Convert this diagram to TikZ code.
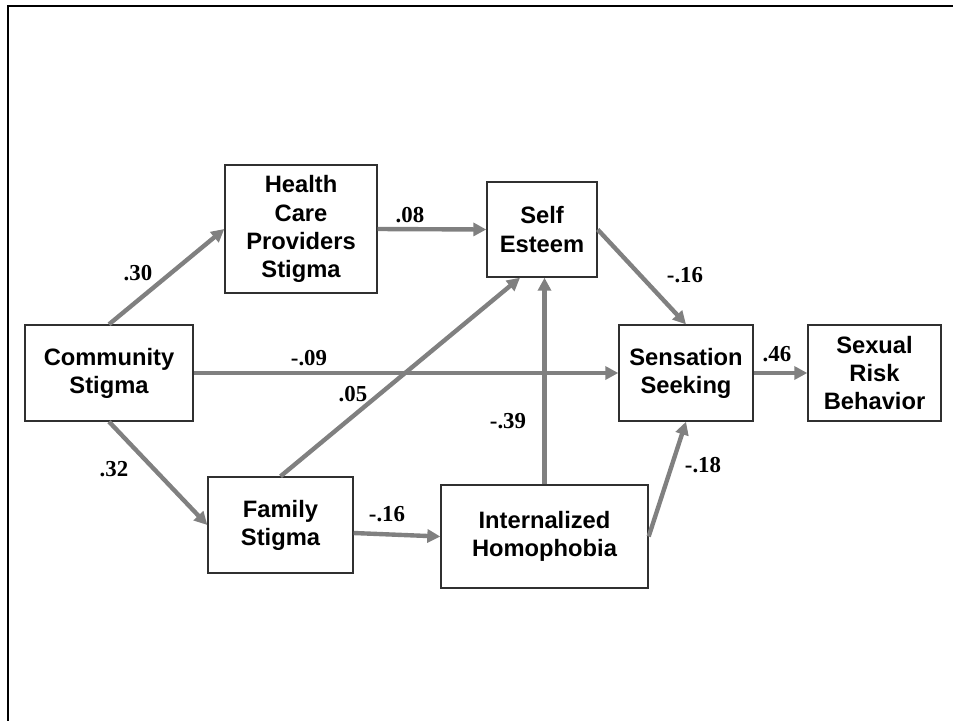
\documentclass[tikz,border=0pt]{standalone}
\usepackage{fontspec}
\setmainfont{Liberation Serif}
\setsansfont{Liberation Sans}
\usetikzlibrary{arrows.meta, calc}
\definecolor{cgrey}{HTML}{808080}
\definecolor{cedge}{HTML}{303030}
\tikzset{
  every picture/.style={x=0.02cm, y=-0.02cm},
  box/.style={draw=cedge, line width=0.8pt, align=center, inner sep=2pt, font=\sffamily\bfseries\fontsize{13.5}{16}\selectfont},
  arrow/.style={-{Triangle[length=2.6mm, width=2.6mm]}, draw=cgrey, line width=2.5pt},
  weight/.style={font=\rmfamily\bfseries\fontsize{13}{15}\selectfont},
  frame/.style={line width=1.4pt},
}

\begin{document}
\begin{tikzpicture}
  \useasboundingbox (0,0) rectangle (953,721);
  \draw[frame] (953,6) -- (8,6) -- (8,721);
  % variables
  \node[box, minimum width=3.36cm, minimum height=1.92cm] (comm) at (109,373) {Community\\Stigma};
  \node[box, minimum width=3.04cm, minimum height=2.56cm] (hcp) at (301,229) {Health\\Care\\Providers\\Stigma};
  \node[box, minimum width=2.2cm, minimum height=1.9cm] (self) at (542,229.5) {Self\\Esteem};
  \node[box, minimum width=2.68cm, minimum height=1.92cm] (sens) at (686,373) {Sensation\\Seeking};
  \node[box, minimum width=2.66cm, minimum height=1.92cm] (srb) at (874.5,373) {Sexual\\Risk\\Behavior};
  \node[box, minimum width=2.9cm, minimum height=1.92cm] (fam) at (280.5,525) {Family\\Stigma};
  \node[box, minimum width=4.14cm, minimum height=2.06cm] (ih) at (544.5,536.5) {Internalized\\Homophobia};
  % paths
  \draw[arrow] (comm.north) -- (hcp.west);
  \draw[arrow] (hcp.east) -- (self.west);
  \draw[arrow] (self.east) -- (sens.north);
  \draw[arrow] (comm.east) -- (sens.west);
  \draw[arrow] (sens.east) -- (srb.west);
  \draw[arrow] (comm.south) -- (fam.west);
  \draw[arrow] (fam.north) -- ([xshift=-0.44cm]self.south);
  \draw[arrow] ([yshift=-0.16cm]fam.east) -- (ih.west);
  \draw[arrow] (ih.north) -- (ih.north |- self.south);
  \draw[arrow] (ih.east) -- (sens.south);
  % coefficients
  \foreach \n/\x/\y/\t in {w1/138/273/.30, w2/410/215/.08, w3/685/275/-.16, w4/309/358/-.09, w5/777/354/.46,
                            w6/114/469/.32, w7/353/394/.05, w8/387/514/-.16, w9/508/421/-.39, w10/703/465/-.18} {
    \node[weight] (\n) at (\x,\y) {\t};
  }
\end{tikzpicture}
\end{document}
